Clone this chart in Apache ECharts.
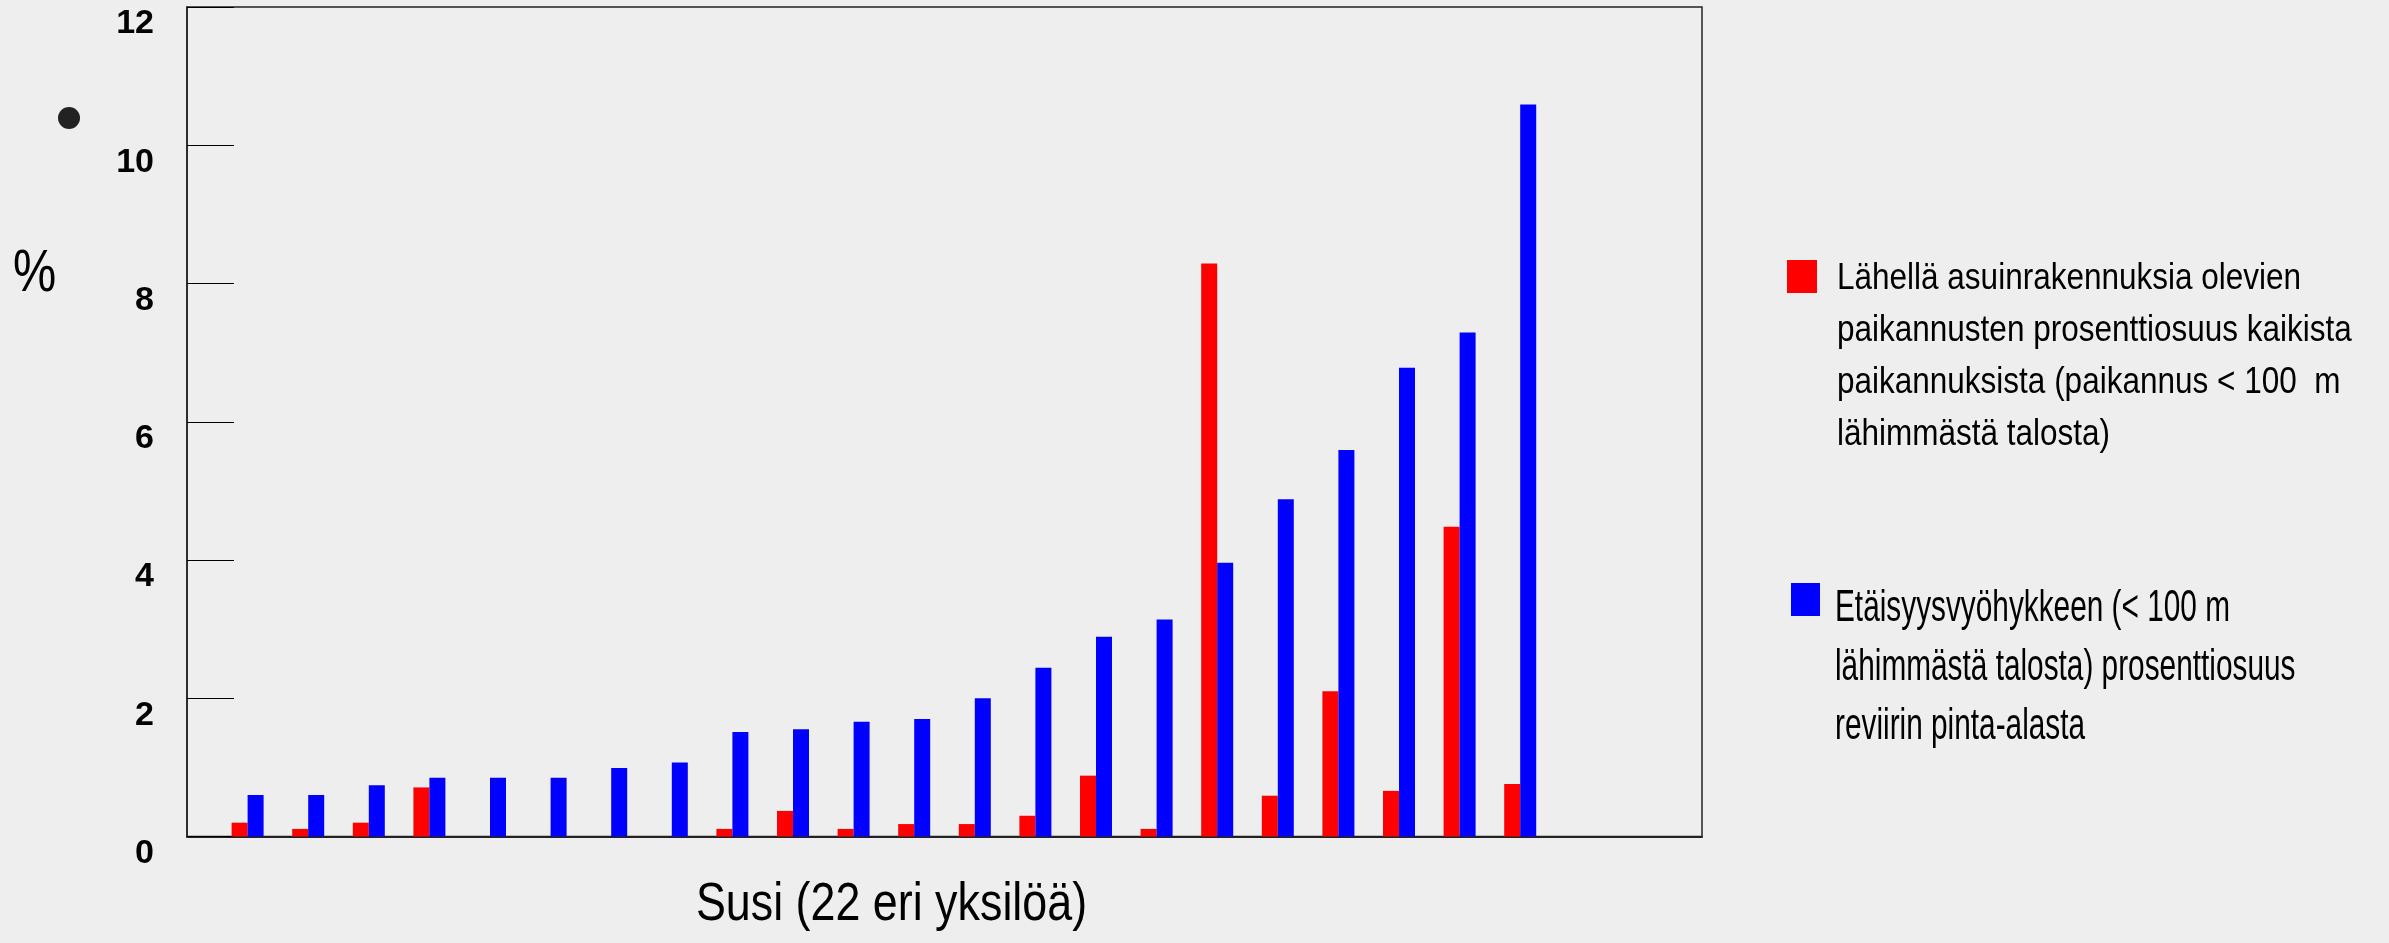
<!DOCTYPE html>
<html>
<head>
<meta charset="utf-8">
<script src="https://cdn.jsdelivr.net/npm/echarts@6/dist/echarts.min.js"></script>
<style>
html,body{margin:0;padding:0;background:#eeeeee;}
#chart{width:2389px;height:943px;}
</style>
</head>
<body>
<div id="chart"></div>
<script>
// Individuals (22 wolves), sorted by blue value
var individuals = ['1','2','3','4','5','6','7','8','9','10','11','12','13','14','15','16','17','18','19','20','21','22'];
// % of locations within 100 m of nearest house
var nearHouses = [0.2, 0.11, 0.2, 0.71, 0, 0, 0, 0, 0.11, 0.37, 0.11, 0.18, 0.18, 0.3, 0.88, 0.11, 8.29, 0.59, 2.1, 0.66, 4.48, 0.76];
// % of territory area within 100 m zone
var zoneShare = [0.6, 0.6, 0.74, 0.85, 0.85, 0.85, 0.99, 1.07, 1.51, 1.55, 1.66, 1.7, 2.0, 2.44, 2.89, 3.14, 3.96, 4.88, 5.59, 6.78, 7.29, 10.59];
var yTicks = [0, 2, 4, 6, 8, 10, 12];

var nameRed = 'Lähellä asuinrakennuksia olevien\npaikannusten prosenttiosuus kaikista\npaikannuksista (paikannus < 100  m\nlähimmästä talosta)';
var nameBlue = 'Etäisyysvyöhykkeen (< 100 m\nlähimmästä talosta) prosenttiosuus\nreviirin pinta-alasta';
var xTitle = 'Susi (22 eri yksilöä)';
var yUnit = '%';

var colorRed = '#ff0000';
var colorBlue = '#0000ff';

// padded category axis: empty slot before and after the individuals
var categories = [''].concat(individuals, ['', '', '']);
function pad(arr){ return [null].concat(arr, [null, null, null]); }

var FONT = "'Liberation Sans', Arial, sans-serif";

var chart = echarts.init(document.getElementById('chart'), null, {renderer: 'canvas'});
chart.setOption({
  backgroundColor: '#eeeeee',
  animation: false,
  grid: {left: 187, right: 687, top: 7, bottom: 106.5, show: true, borderColor: '#222', borderWidth: 1.5, backgroundColor: 'transparent'},
  xAxis: {
    type: 'category',
    data: categories,
    boundaryGap: false,
    axisLine: {show: true, lineStyle: {color: '#222', width: 2}},
    axisTick: {show: false},
    axisLabel: {show: false},
    splitLine: {show: false}
  },
  yAxis: {
    type: 'value',
    min: yTicks[0],
    max: yTicks[yTicks.length - 1],
    interval: 2,
    axisLine: {show: true, lineStyle: {color: '#222', width: 1.5}},
    axisTick: {show: true, inside: true, length: 47, lineStyle: {color: '#000', width: 1}},
    splitLine: {show: false},
    axisLabel: {fontFamily: FONT, fontWeight: 'bold', fontSize: 34, color: '#000', margin: 33, verticalAlign: 'top'}
  },
  graphic: [
    {type: 'circle', shape: {cx: 69, cy: 118, r: 11}, style: {fill: '#222'}},
    {type: 'text', x: 13, y: 244, scaleX: 0.81,
      style: {text: yUnit, fontFamily: FONT, fontSize: 60, fill: '#000', verticalAlign: 'top'}},
    {type: 'text', x: 891.5, y: 932, scaleX: 0.846,
      style: {text: xTitle, fontFamily: FONT, fontSize: 53, fill: '#000', align: 'center', verticalAlign: 'bottom', textBaseline: 'alphabetic'}},
    // legend
    {type: 'rect', shape: {x: 1787, y: 260, width: 30, height: 33}, style: {fill: colorRed}},
    {type: 'text', x: 1837, y: 253, scaleX: 0.875,
      style: {text: nameRed, fontFamily: FONT, fontSize: 36, lineHeight: 52, fill: '#000', verticalAlign: 'top'}},
    {type: 'rect', shape: {x: 1791, y: 583, width: 29, height: 33}, style: {fill: colorBlue}},
    {type: 'text', x: 1835, y: 579, scaleX: 0.685,
      style: {text: nameBlue, fontFamily: FONT, fontSize: 43.5, lineHeight: 59, fill: '#000', verticalAlign: 'top'}}
  ],
  series: [
    {name: 'Lähellä asuinrakennuksia', type: 'bar', data: pad(nearHouses), barWidth: 16, barGap: '0%', itemStyle: {color: colorRed}},
    {name: 'Etäisyysvyöhyke', type: 'bar', data: pad(zoneShare), barWidth: 16, barGap: '0%', itemStyle: {color: colorBlue}}
  ]
});
</script>
</body>
</html>
